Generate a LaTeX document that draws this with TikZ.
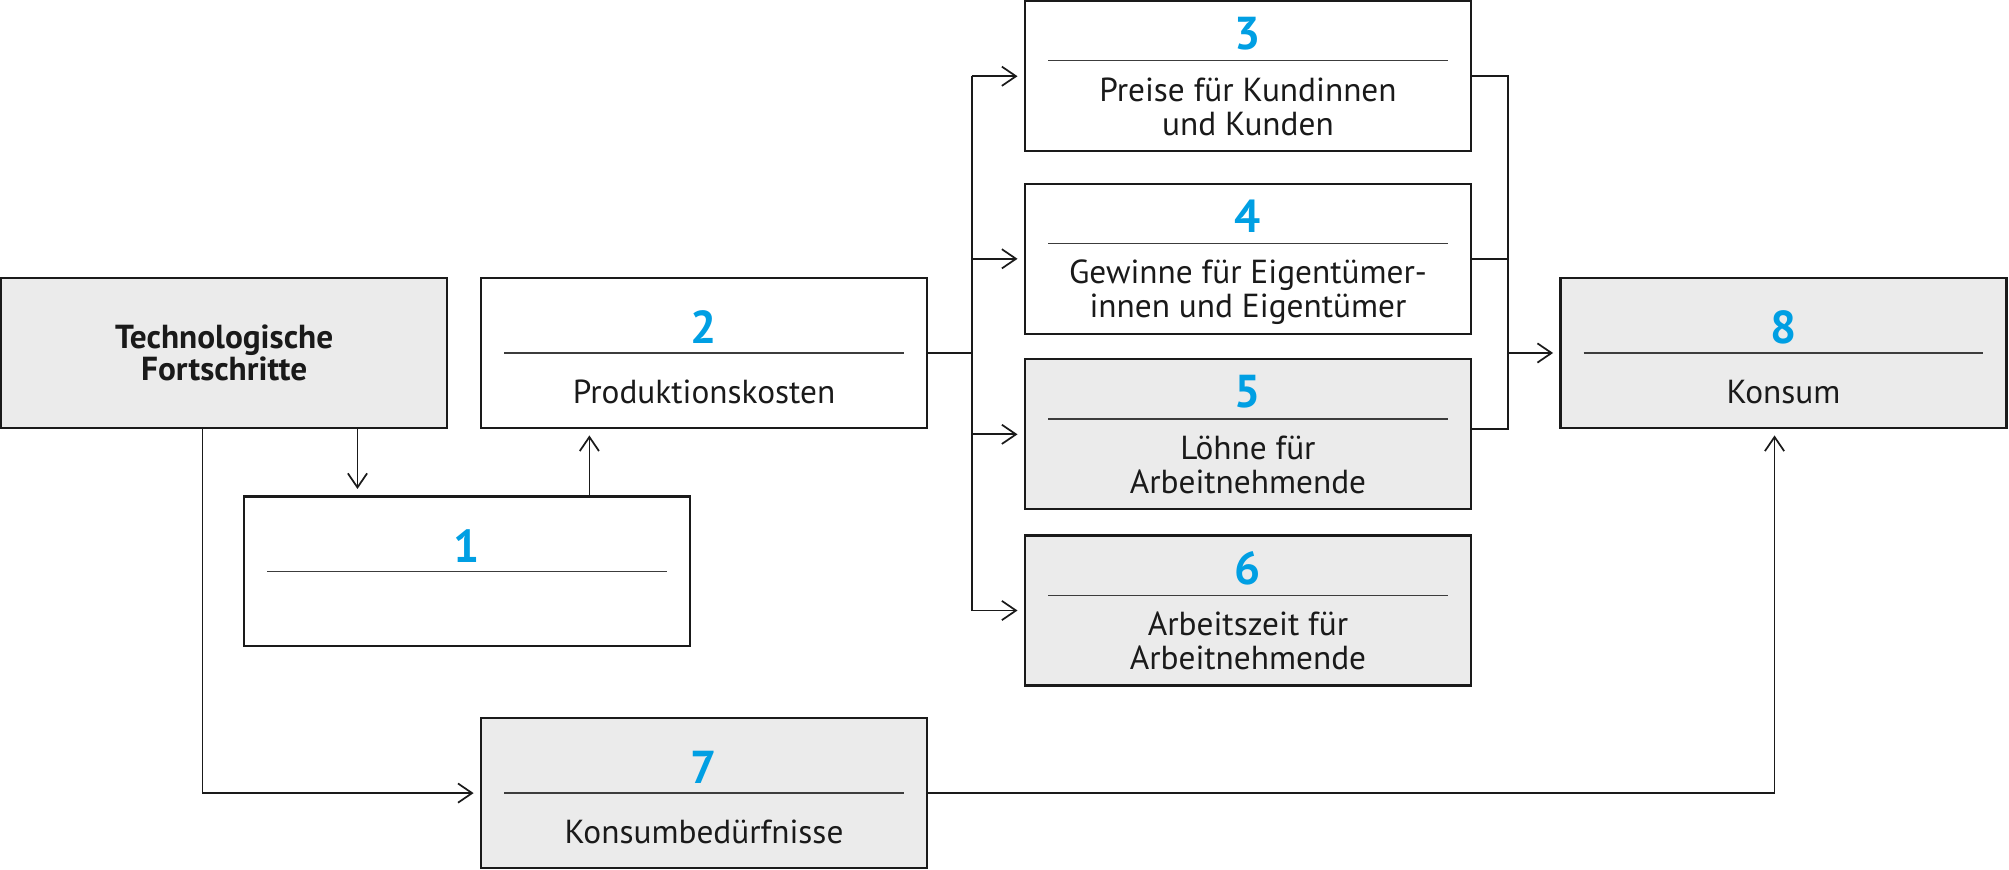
\documentclass[tikz,border=0pt]{standalone}
\usepackage{fontspec}
\setmainfont{PT Sans}
\usetikzlibrary{arrows.meta,calc}
\definecolor{numblue}{HTML}{009FE3}
\definecolor{boxgrey}{HTML}{EBEBEB}
\definecolor{ink}{HTML}{1A1A1A}
\tikzset{
  box/.style={draw=ink, line width=1.7pt, minimum width=348pt, minimum height=117pt, inner sep=0pt, text=ink},
  greybox/.style={box, fill=boxgrey},
  whitebox/.style={box, fill=white},
  divider/.style={draw=ink!85, line width=1pt},
  num/.style={text=numblue, font=\fontsize{36}{36}\selectfont\bfseries, inner sep=0pt},
  lbl/.style={text=ink, font=\fontsize{26}{26.5}\selectfont, align=center, inner sep=0pt},
  conn/.style={draw=ink, line width=1.35pt},
  arr/.style={conn, -{Straight Barb[length=11pt,width=15pt,line width=1.35pt]}, shorten >=5pt},
}
\begin{document}
\begin{tikzpicture}[x=1pt,y=-1pt]
\useasboundingbox (0,0) rectangle (1568,679);
% boxes
\node[greybox, font=\fontsize{26}{25}\selectfont\bfseries, align=center] (tech) at (175,275.5) {Technologische\\Fortschritte};
\node[whitebox] (b2) at (549.5,275.5) {};
\node[whitebox] (b1) at (364.5,446) {};
\node[whitebox] (b3) at (974,59.5) {};
\node[whitebox] (b4) at (974,202) {};
\node[greybox] (b5) at (974,339) {};
\node[greybox] (b6) at (974,476.5) {};
\node[greybox] (b7) at (549.5,619) {};
\node[greybox] (b8) at (1392,275.5) {};
% single-line boxes: divider at center
\foreach \b/\n in {b1/1,b2/2,b7/7,b8/8}{
  \draw[divider] ($(\b.center)+(-156,0)$) -- ($(\b.center)+(156,0)$);
  \node[num] (n\n) at ($(\b.center)+(0,-20)$) {\n};
}
\node[lbl, anchor=base] (l2) at ($(b2.center)+(0,39.5)$) {Produktionskosten};
\node[lbl, anchor=base] (l7) at ($(b7.center)+(0,39.5)$) {Konsumbedürfnisse};
\node[lbl, anchor=base] (l8) at ($(b8.center)+(0,39.5)$) {Konsum};
% two-line boxes: divider 12 above center
\foreach \b/\n in {b3/3,b4/4,b5/5,b6/6}{
  \draw[divider] ($(\b.center)+(-156,-12)$) -- ($(\b.center)+(156,-12)$);
  \node[num] (n\n) at ($(\b.center)+(0,-33)$) {\n};
}
\node[lbl, anchor=base] (l3) at ($(b3.center)+(0,46)$) {Preise für Kundinnen\\und Kunden};
\node[lbl, anchor=base] (l4) at ($(b4.center)+(0,46)$) {Gewinne für Eigentümer-\\innen und Eigentümer};
\node[lbl, anchor=base] (l5) at ($(b5.center)+(0,46)$) {Löhne für\\Arbeitnehmende};
\node[lbl, anchor=base] (l6) at ($(b6.center)+(0,46)$) {Arbeitszeit für\\Arbeitnehmende};
% connectors
\coordinate (p1) at ($(b1.north)+(-85.5,0)$);
\draw[arr] (tech.south -| p1) -- (p1);
\coordinate (p2) at ($(b1.north)+(95.5,0)$);
\draw[arr] (p2) -- (p2 |- b2.south);
\draw[arr] ($(tech.south)+(-17,0)$) |- (b7.west);
\coordinate (busL) at ($(b2.east)+(34,0)$);
\draw[conn] (b2.east) -- (busL);
\draw[conn] (busL |- b3.west) -- (busL |- b6.west);
\foreach \b in {b3,b4,b5,b6}{
  \draw[arr] (busL |- \b.west) -- (\b.west);
}
\coordinate (busR) at ($(b3.east)+(28,0)$);
\coordinate (b5r) at ($(b5.east)+(0,-4)$);
\draw[conn] (b3.east) -- (busR |- b3.east) -- (busR |- b5r) -- (b5r);
\draw[conn] (b4.east) -- (busR |- b4.east);
\draw[arr] (busR |- b8.west) -- (b8.west);
\draw[arr] (b7.east) -| ($(b8.south)+(-7,0)$);
\end{tikzpicture}
\end{document}
